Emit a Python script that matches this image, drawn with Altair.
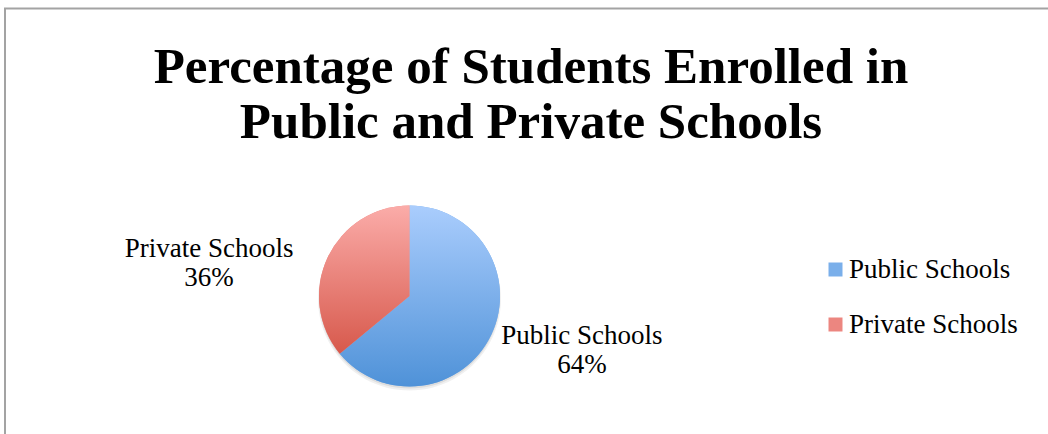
import altair as alt
import pandas as pd

# ---- data ----
categories = ["Public Schools", "Private Schools"]
percentages = [64, 36]
title_lines = ["Percentage of Students Enrolled in", "Public and Private Schools"]
solid_colors = ["#7aafea", "#ec8680"]
grad_top = ["#aacdfd", "#fbaca9"]
grad_bottom = ["#4f92d8", "#d7594c"]

# ---- derived table ----
starts, acc = [], 0
for v in percentages:
    starts.append(acc)
    acc += v
ends = [s + v for s, v in zip(starts, percentages)]
df = pd.DataFrame({"category": categories, "value": percentages, "start": starts, "end": ends})
df["mid"] = (df["start"] + df["end"]) / 2
df["label"] = df["category"] + "\n" + df["value"].astype(str) + "%"

FONT = "Liberation Serif"
LABEL_SIZE = 27
CX, CY, R = 409.5, 296, 90.5
theta_scale = alt.Scale(domain=[0, 100], range=[0, 6.283185307179586])
base = alt.Chart(df)


def grad(i):
    return alt.LinearGradient(
        gradient="linear",
        stops=[alt.GradientStop(color=grad_top[i], offset=0),
               alt.GradientStop(color=grad_bottom[i], offset=1)],
        x1=0, x2=0, y1=0, y2=1,
    )


pos = dict(x=alt.value(CX), y=alt.value(CY))

shadow1 = base.mark_arc(radius=R + 1, color="#000000", opacity=0.06).encode(
    theta=alt.Theta("start:Q", scale=theta_scale, stack=None), theta2="end:Q",
    x=alt.value(CX), y=alt.value(CY + 3))
shadow2 = base.mark_arc(radius=R, color="#000000", opacity=0.08).encode(
    theta=alt.Theta("start:Q", scale=theta_scale, stack=None), theta2="end:Q",
    x=alt.value(CX), y=alt.value(CY + 2))

pie_solid = base.mark_arc(radius=R).encode(
    theta=alt.Theta("start:Q", scale=theta_scale, stack=None),
    theta2="end:Q",
    color=alt.Color(
        "category:N",
        scale=alt.Scale(domain=categories, range=solid_colors),
        legend=alt.Legend(
            title=None, orient="none", legendX=822, legendY=256,
            symbolType="square", symbolSize=196, symbolStrokeWidth=0,
            labelFont=FONT, labelFontSize=LABEL_SIZE, labelColor="#000000",
            labelOffset=0, labelLimit=400, rowPadding=27, padding=0,
        ),
    ),
    **pos,
)

pie_grad = []
for i, cat in enumerate(categories):
    pie_grad.append(
        base.transform_filter(alt.datum.category == cat)
        .mark_arc(radius=R, fill=grad(i), stroke=None)
        .encode(theta=alt.Theta("start:Q", scale=theta_scale, stack=None), theta2="end:Q", **pos)
    )

offsets = {"Public Schools": (9.6, -36.6), "Private Schools": (-37.6, 29.6)}
labels = []
for cat in categories:
    dx, dy = offsets[cat]
    labels.append(
        base.transform_filter(alt.datum.category == cat)
        .mark_text(radius=180, dx=dx, dy=dy, lineBreak="\n", font=FONT, fontSize=LABEL_SIZE,
                   lineHeight=29, align="center", baseline="middle", color="#000000")
        .encode(theta=alt.Theta("mid:Q", scale=theta_scale, stack=None), text="label:N", **pos)
    )

title = alt.Chart(pd.DataFrame({"t": ["\n".join(title_lines)]})).mark_text(
    lineBreak="\n", font=FONT, fontSize=51, fontWeight="bold", lineHeight=55,
    align="center", baseline="alphabetic", color="#000000",
).encode(text="t:N", x=alt.value(531), y=alt.value(83))

frame = alt.Chart(pd.DataFrame({"a": [0]}))
top_rule = frame.mark_rule(color="#a3a3a3", strokeWidth=2).encode(
    x=alt.value(4), x2=alt.value(1048), y=alt.value(8.5))
left_rule = frame.mark_rule(color="#a3a3a3", strokeWidth=2).encode(
    x=alt.value(5), y=alt.value(8), y2=alt.value(434))

chart = alt.layer(
    top_rule, left_rule, title, shadow1, shadow2, pie_solid, *pie_grad, *labels
).properties(
    width=1048, height=434, autosize="none", padding=0, background="white"
).configure_view(stroke=None)

chart.save("out.html", embed_options={"renderer": "svg", "actions": False})
